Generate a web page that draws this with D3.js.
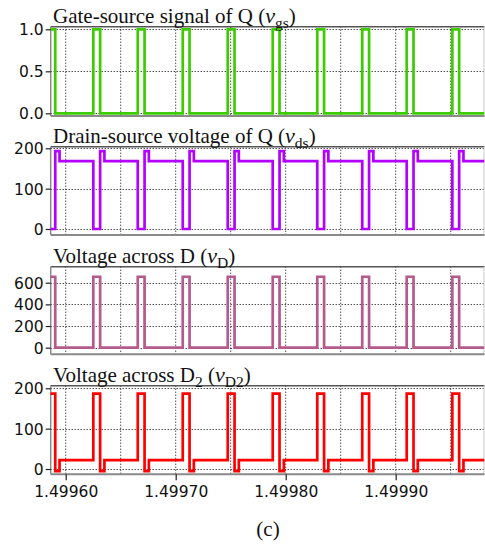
<!DOCTYPE html>
<html><head><meta charset="utf-8">
<script src="https://cdn.jsdelivr.net/npm/d3@7"></script>
<style>
html,body{margin:0;padding:0;background:#fff;}
svg{display:block;}
</style></head>
<body>
<svg id="chart" width="485" height="546"></svg>
<script>
// ---- data ----
const gateOn  = [1.4995843, 1.4996251, 1.4996655, 1.4997064, 1.4997473, 1.4997882, 1.4998287, 1.4998696, 1.4999100, 1.4999515];
const gateOff = [1.4995905, 1.4996313, 1.4996717, 1.4997126, 1.4997535, 1.4997944, 1.4998349, 1.4998758, 1.4999162, 1.4999577];
const ringEnd = [1.4995944, 1.4996352, 1.4996756, 1.4997165, 1.4997574, 1.4997983, 1.4998388, 1.4998797, 1.4999201, 1.4999616];
const endTime = 1.4999807;

// levels: [during gate on, after turn-off ringing, rest of the period]
const vgsLevels = [1, 0, 0];
const vdsLevels = [0, 193, 168];
const vDLevels  = [655, 0, 0];
const vD2Levels = [187, -5, 22];

const xTickValues = [1.4996, 1.4997, 1.4998, 1.4999];
const xTickLabels = ["1.49960", "1.49970", "1.49980", "1.49990"];
const xGridValues = [1.4996, 1.49965, 1.4997, 1.49975, 1.4998, 1.49985, 1.4999, 1.49995];

const vgsTicks = [0, 0.5, 1.0];
const vgsTickLabels = ["0.0", "0.5", "1.0"];
const vdsTicks = [0, 100, 200];
const vdsTickLabels = ["0", "100", "200"];
const vDTicks = [0, 200, 400, 600];
const vDTickLabels = ["0", "200", "400", "600"];
const vD2Ticks = [0, 100, 200];
const vD2TickLabels = ["0", "100", "200"];

// ---- layout ----
const svg = d3.select("#chart");
const left = 50.7, right = 484.5;
const x = d3.scaleLinear().domain([1.49958636, 1.49998073]).range([left, right]);

const panels = [
  {top: 26.7, bottom: 116, domain: [-0.032, 1.031], levels: vgsLevels, ticks: vgsTicks, labels: vgsTickLabels,
   color: "#3ccc00", title: ["Gate-source signal of Q (", "v", "gs", ")"]},
  {top: 146.7, bottom: 235, domain: [-14.9, 204], levels: vdsLevels, ticks: vdsTicks, labels: vdsTickLabels,
   color: "#b400ff", title: ["Drain-source voltage of Q (", "v", "ds", ")"]},
  {top: 266.7, bottom: 354.3, domain: [-61, 747.7], levels: vDLevels, ticks: vDTicks, labels: vDTickLabels,
   color: "#b45a8c", title: ["Voltage across D (", "v", "D", ")"]},
  {top: 385.7, bottom: 474.3, domain: [-13.1, 206.4], levels: vD2Levels, ticks: vD2Ticks, labels: vD2TickLabels,
   color: "#ff0000", title: ["Voltage across D", "2", " (", "v", "D2", ")"]}
];

function buildSeries(levels) {
  const pts = [];
  for (let i = 0; i < gateOn.length; i++) {
    pts.push([gateOn[i], levels[0]]);
    pts.push([gateOff[i], levels[1]]);
    pts.push([ringEnd[i], levels[2]]);
  }
  pts.push([endTime, levels[2]]);
  return pts;
}

const defs = svg.append("defs");
const subSize = "15.5px", subDy = 4.5;

panels.forEach((p, k) => {
  const y = d3.scaleLinear().domain(p.domain).range([p.bottom, p.top]);
  const g = svg.append("g");

  // gridlines
  g.selectAll("line.vg").data(xGridValues).join("line")
    .attr("x1", d => x(d)).attr("x2", d => x(d))
    .attr("y1", p.top).attr("y2", p.bottom)
    .attr("stroke", "#000").attr("stroke-width", 1).attr("stroke-dasharray", "1,2");
  g.selectAll("line.hg").data(p.ticks).join("line")
    .attr("x1", left).attr("x2", right)
    .attr("y1", d => Math.round(y(d)) + 0.5).attr("y2", d => Math.round(y(d)) + 0.5)
    .attr("stroke", "#000").attr("stroke-width", 1).attr("stroke-dasharray", "1,2");

  // borders
  g.append("line").attr("x1", left).attr("x2", right).attr("y1", p.top).attr("y2", p.top)
    .attr("stroke", "#555").attr("stroke-width", 1.5);
  g.append("line").attr("x1", right - 0.5).attr("x2", right - 0.5).attr("y1", p.top).attr("y2", p.bottom)
    .attr("stroke", "#c8c8c8").attr("stroke-width", 1);
  g.append("line").attr("x1", left).attr("x2", right).attr("y1", p.bottom).attr("y2", p.bottom)
    .attr("stroke", "#8a8a8a").attr("stroke-width", 2);

  // y axis
  const ya = d3.axisLeft(y).tickValues(p.ticks).tickFormat((d, i) => p.labels[i]).tickSize(5).tickPadding(2);
  const yg = g.append("g").attr("transform", `translate(${left},0)`).call(ya);
  yg.select(".domain").attr("stroke", "#8a8a8a").attr("stroke-width", 1.5)
    .attr("d", `M0,${p.top}V${p.bottom}`);
  yg.selectAll(".tick line").attr("stroke", "#222").attr("stroke-width", 1.2);
  yg.selectAll(".tick text").attr("font-family", "DejaVu Sans, sans-serif").attr("font-size", "15.5px")
    .attr("fill", "#111").attr("dy", "0.36em");

  // series
  const cid = "clip" + k;
  defs.append("clipPath").attr("id", cid).append("rect")
    .attr("x", left).attr("y", p.top - 2).attr("width", right - left).attr("height", p.bottom - p.top + 4);
  const line = d3.line().x(d => x(d[0])).y(d => y(d[1])).curve(d3.curveStepAfter);
  g.append("path").datum(buildSeries(p.levels)).attr("clip-path", `url(#${cid})`)
    .attr("d", line).attr("fill", "none").attr("stroke", p.color).attr("stroke-width", 2.7)
    .attr("stroke-linejoin", "miter");

  // title
  const t = g.append("text").attr("x", 53).attr("y", p.top - 3.5)
    .attr("font-family", "Liberation Serif, Times New Roman, serif").attr("font-size", "21px").attr("fill", "#111");
  if (p.title.length === 4) {
    t.append("tspan").text(p.title[0]);
    t.append("tspan").attr("font-style", "italic").attr("font-size", "22px").text(p.title[1]);
    t.append("tspan").attr("font-size", subSize).attr("dy", subDy).text(p.title[2]);
    t.append("tspan").attr("dy", -subDy).text(p.title[3]);
  } else {
    t.append("tspan").text(p.title[0]);
    t.append("tspan").attr("font-size", subSize).attr("dy", subDy).text(p.title[1]);
    t.append("tspan").attr("dy", -subDy).text(p.title[2]);
    t.append("tspan").attr("font-style", "italic").attr("font-size", "22px").text(p.title[3]);
    t.append("tspan").attr("font-size", subSize).attr("dy", subDy).text(p.title[4]);
    t.append("tspan").attr("dy", -subDy).text(p.title[5]);
  }

  // x axis on last panel
  if (k === panels.length - 1) {
    const xa = d3.axisBottom(x).tickValues(xTickValues).tickFormat((d, i) => xTickLabels[i]).tickSize(6).tickPadding(6);
    const xg = g.append("g").attr("transform", `translate(0,${p.bottom})`).call(xa);
    xg.select(".domain").remove();
    xg.selectAll(".tick line").attr("stroke", "#222").attr("stroke-width", 1.2);
    xg.selectAll(".tick text").attr("font-family", "DejaVu Sans, sans-serif").attr("font-size", "15.5px").attr("fill", "#111");
  }
});

svg.append("text").attr("x", 268).attr("y", 536).attr("text-anchor", "middle")
  .attr("font-family", "Liberation Serif, Times New Roman, serif").attr("font-size", "21px").attr("fill", "#111")
  .text("(c)");
</script>
</body></html>
